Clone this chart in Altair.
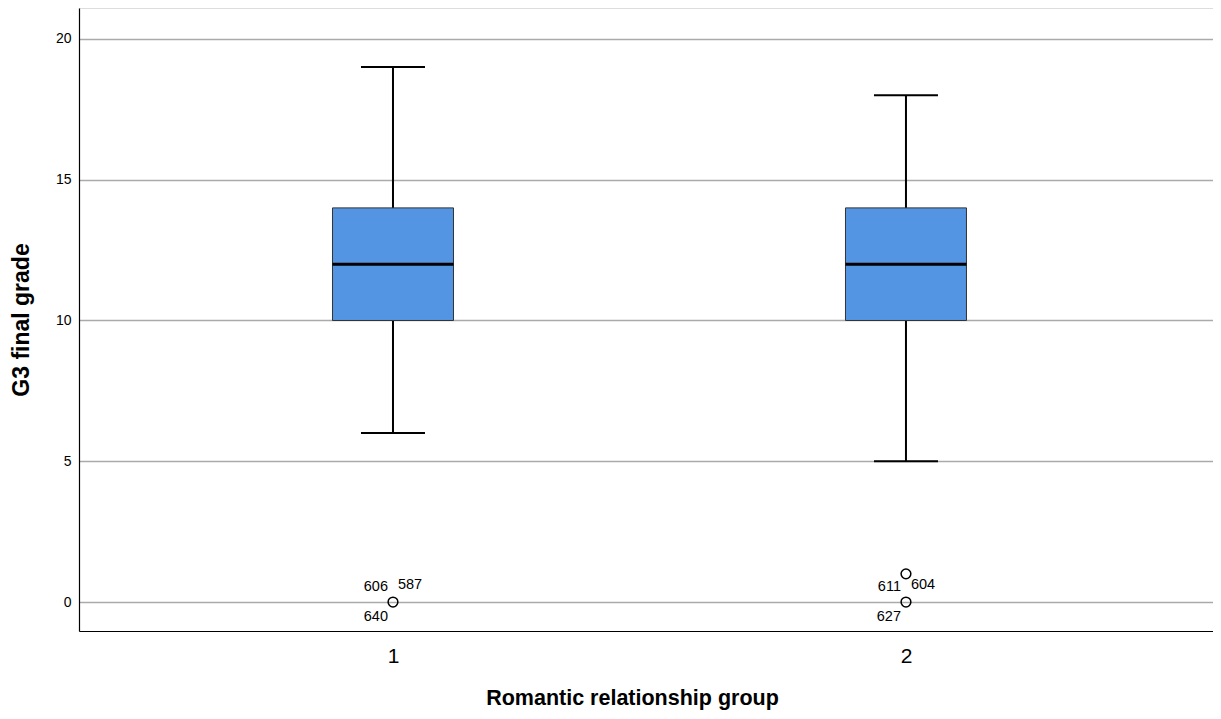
import altair as alt
import pandas as pd

groups = ["1", "2"]
whisker_low = [6, 5]
q1 = [10, 10]
median = [12, 12]
q3 = [14, 14]
whisker_high = [19, 18]

outlier_group = ["1", "2", "2"]
outlier_value = [0, 0, 1]

label_group = ["1", "1", "1", "2", "2", "2"]
label_value = [0, 0, 0, 0, 0, 0]
label_text = ["606", "587", "640", "611", "604", "627"]
label_role = ["left_above", "right_above", "left_below", "left_above", "right_above", "left_below"]

y_ticks = [0, 5, 10, 15, 20]

box_df = pd.DataFrame({"group": groups, "lo": whisker_low, "q1": q1, "med": median,
                       "q3": q3, "hi": whisker_high})
out_df = pd.DataFrame({"group": outlier_group, "value": outlier_value})
lab_df = pd.DataFrame({"group": label_group, "value": label_value, "text": label_text,
                       "role": label_role})

FONT = "Liberation Sans"
PLOT_W, PLOT_H = 1134, 623

xscale = alt.Scale(type="point", domain=groups, padding=0.6053, align=0.5056)
yscale = alt.Scale(domain=[-1.03, 21.1], nice=False, zero=False)

x_enc = alt.X("group:O", scale=xscale,
              axis=alt.Axis(title="Romantic relationship group", labelAngle=0,
                            labelFontSize=21, labelPadding=14, ticks=False,
                            domainColor="black", domainWidth=1.2,
                            titleFontSize=21.5, titleFontWeight="bold", titlePadding=21,
                            titleX=553, titleAlign="center",
                            labelFont=FONT, titleFont=FONT, labelColor="black",
                            titleColor="black", grid=False))
y_axis = alt.Axis(title="G3 final grade", values=y_ticks, ticks=False,
                  labelFontSize=14, labelPadding=8, domainColor="black", domainWidth=1.2,
                  grid=True, gridColor="#aaaaaa", gridWidth=1.5,
                  titleFontSize=23, titleFontWeight="bold", titlePadding=22,
                  labelFont=FONT, titleFont=FONT, labelColor="black", titleColor="black")

base = alt.Chart(box_df)

whisker = base.mark_rule(color="black", strokeWidth=2).encode(
    x=x_enc,
    y=alt.Y("lo:Q", scale=yscale, axis=y_axis),
    y2="hi:Q",
)
box = base.mark_bar(size=121, fill="#5394e3", stroke="#333333", strokeWidth=1).encode(
    x="group:O", y="q1:Q", y2="q3:Q")
med = base.mark_tick(size=121, thickness=3, color="black", opacity=1).encode(
    x="group:O", y="med:Q")
cap_lo = base.mark_tick(size=64, thickness=2, color="black", opacity=1).encode(
    x="group:O", y="lo:Q")
cap_hi = base.mark_tick(size=64, thickness=2, color="black", opacity=1).encode(
    x="group:O", y="hi:Q")

outliers = alt.Chart(out_df).mark_point(shape="circle", filled=False, size=95,
                                        stroke="black", strokeWidth=1.5, opacity=1).encode(
    x="group:O", y="value:Q")

lab = alt.Chart(lab_df)
la = lab.transform_filter(alt.datum.role == "left_above").mark_text(
    align="right", baseline="middle", dx=-5, dy=-15, fontSize=14.5, font=FONT, color="black").encode(
    x="group:O", y="value:Q", text="text:N")
ra = lab.transform_filter(alt.datum.role == "right_above").mark_text(
    align="left", baseline="middle", dx=5, dy=-17, fontSize=14.5, font=FONT, color="black").encode(
    x="group:O", y="value:Q", text="text:N")
lb = lab.transform_filter(alt.datum.role == "left_below").mark_text(
    align="right", baseline="middle", dx=-5, dy=15, fontSize=14.5, font=FONT, color="black").encode(
    x="group:O", y="value:Q", text="text:N")

chart = alt.layer(whisker, box, med, cap_lo, cap_hi, outliers, la, ra, lb).properties(
    width=PLOT_W, height=PLOT_H,
    autosize=alt.AutoSizeParams(type="none"),
    padding={"left": 71, "top": 0, "right": 0, "bottom": 80},
).configure_view(stroke=None).configure(background="white")

chart.save("out.html", embed_options={"renderer": "svg", "actions": False})
